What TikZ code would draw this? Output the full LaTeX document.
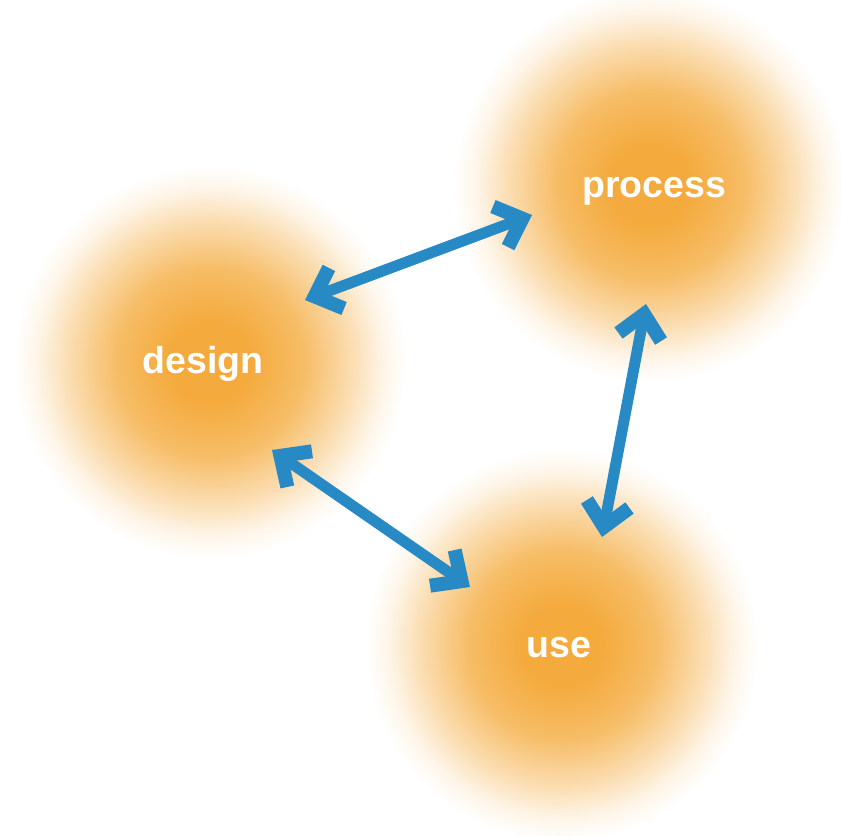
\documentclass[tikz,border=0pt]{standalone}
\usepackage{fontspec}
\setmainfont{Liberation Sans}
\usetikzlibrary{arrows.meta}
\definecolor{glowcore}{RGB}{244,170,60}
\definecolor{arrowblue}{RGB}{40,138,196}
\pgfdeclareradialshading{glow}{\pgfpoint{0bp}{0bp}}{color(0bp)=(glowcore); color(5bp)=(glowcore); color(12bp)=(glowcore!78); color(18bp)=(glowcore!40); color(22bp)=(glowcore!12); color(25bp)=(white); color(50bp)=(white)}
\tikzset{
  glowtext/.style={text=white, font=\fontsize{32}{38}\selectfont\bfseries, anchor=base, inner sep=0pt},
  barb/.tip={Straight Barb[sharp, length=0.7cm, width=1.3cm, line width=0.42cm]},
  link/.style={arrowblue, line width=0.33cm, barb-barb}
}

\begin{document}
\begin{tikzpicture}[x=0.03cm, y=-0.03cm]
\useasboundingbox (0,0) rectangle (841,835);

% Glows
\foreach \x/\y in {210/362, 650/185, 562/645} {
    \shade[shading=glow] (\x,\y) circle (5.9cm);
}

% Labels
\node[glowtext] (design) at (203,373) {design};
\node[glowtext] (process) at (654,197) {process};
\node[glowtext] (use) at (559,657) {use};

% Arrow ends
\coordinate (design-p) at (305,300);
\coordinate (process-d) at (532,215);
\coordinate (design-u) at (272,450);
\coordinate (use-d) at (470,587);
\coordinate (process-u) at (646,304);
\coordinate (use-p) at (602,537);

% Connections
\draw[link] (design-p) -- (process-d);
\draw[link] (design-u) -- (use-d);
\draw[link] (process-u) -- (use-p);
\end{tikzpicture}
\end{document}
